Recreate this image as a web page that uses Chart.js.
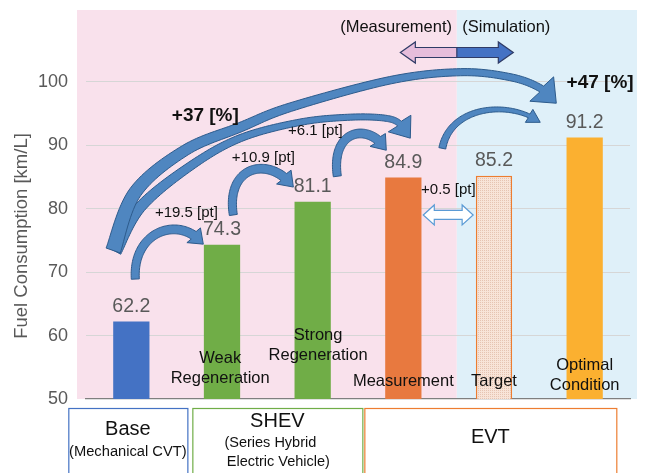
<!doctype html>
<html lang="en">
<head>
<meta charset="utf-8">
<title>Fuel Consumption</title>
<script src="https://cdn.jsdelivr.net/npm/chart.js"></script>
<style>
  html, body { margin: 0; padding: 0; background: #fff; }
  #chart { display: block; }
</style>
</head>
<body>
<canvas id="chart" width="646" height="473"></canvas>
<script>
// ---- data ----
const categories = ['Base', 'Weak Regeneration', 'Strong Regeneration', 'Measurement', 'Target', 'Optimal Condition'];
const fuelValues = [62.2, 74.3, 81.1, 84.9, 85.2, 91.2];
const barColors = ['#4472c4', '#70ad47', '#70ad47', '#e8793f', 'pattern', '#fbb030'];
const categoryLines = [[], ['Weak', 'Regeneration'], ['Strong', 'Regeneration'], ['Measurement'], ['Target'], ['Optimal', 'Condition']];
const yTicks = [50, 60, 70, 80, 90, 100];
const groupNames = ['Base', 'SHEV', 'EVT'];
const groupNotes = [['(Mechanical CVT)'], ['(Series Hybrid', 'Electric Vehicle)'], []];
const stepLabels = ['+19.5 [pt]', '+10.9 [pt]', '+6.1 [pt]', '+0.5 [pt]'];
const totalLabels = ['+37 [%]', '+47 [%]'];

// ---- annotation layout (category index, value) ----
const labelBase = [null, 53.3, 56.8, 52.8, 52.8, 52.2];   // value of last line of in-plot label
const labelShift = [0, -0.02, 0.06, 0, 0, 0];
const regionSplit = 3.59;                                 // measurement | simulation
const groupSpans = [[-0.695, 0.618, '#4472c4'], [0.673, 2.548, '#70ad47'], [2.57, 5.349, '#ed7d31']];
// small step arrows: cubic control points
const stepArrows = [
  { p: [[0.044, 68.9], [0.011, 76.6], [0.54, 79.0], [0.794, 74.4]], w0: 8, w1: 9, hw: 20, hl: 13 },
  { p: [[1.125, 79.0], [1.037, 86.9], [1.533, 88.4], [1.787, 83.4]], w0: 8, w1: 9, hw: 20, hl: 13 },
  { p: [[2.272, 85.1], [2.195, 92.7], [2.636, 93.6], [2.812, 89.2]], w0: 8, w1: 9, hw: 20, hl: 13 },
  { p: [[3.43, 89.5], [3.52, 96.3], [4.18, 97.1], [4.51, 93.6]], w0: 7, w1: 4, hw: 15, hl: 12 }
];
// long arrows: points on the centre line
const totalArrows = [
  { pts: [[-0.180, 73.3], [0.099, 80.24], [0.651, 86.69], [1.202, 91.10], [1.864, 93.62], [2.415, 94.41], [2.801, 94.25], [2.967, 93.31], [3.077, 91.10]], w0: 13, w1: 6, hw: 28, hl: 18 },
  { pts: [[-0.200, 73.4], [0.044, 82.6], [0.596, 89.21], [1.202, 92.83], [1.754, 95.98], [2.857, 100.24], [3.629, 101.50], [4.180, 100.71], [4.511, 98.98], [4.687, 96.61]], w0: 15, w1: 7, hw: 34, hl: 20 }
];
const stepPos = [[0.607, 79.4], [1.456, 88.0], [2.03, 92.2], [3.497, 82.9]];
const totalPos = [[0.816, 94.7], [5.17, 99.8]];

function targetPattern() {
  const c = document.createElement('canvas');
  c.width = 2; c.height = 2;
  const g = c.getContext('2d');
  g.fillStyle = '#f8e4d8'; g.fillRect(0, 0, 2, 2);
  g.fillStyle = '#e6c4b2'; g.fillRect(0, 0, 1, 1);
  return g.createPattern(c, 'repeat');
}

function cubicPts(p) {
  const out = [];
  for (let i = 0; i <= 80; i++) {
    const t = i / 80, u = 1 - t;
    out.push([
      u*u*u*p[0][0] + 3*u*u*t*p[1][0] + 3*u*t*t*p[2][0] + t*t*t*p[3][0],
      u*u*u*p[0][1] + 3*u*u*t*p[1][1] + 3*u*t*t*p[2][1] + t*t*t*p[3][1]
    ]);
  }
  return out;
}

function splinePts(p) {
  const out = [p[0]];
  for (let i = 0; i < p.length - 1; i++) {
    const p0 = p[Math.max(0, i-1)], p1 = p[i], p2 = p[i+1], p3 = p[Math.min(p.length-1, i+2)];
    for (let k = 1; k <= 16; k++) {
      const t = k / 16, t2 = t*t, t3 = t2*t;
      out.push([0, 1].map(j => 0.5 * ((2*p1[j]) + (-p0[j] + p2[j]) * t +
        (2*p0[j] - 5*p1[j] + 4*p2[j] - p3[j]) * t2 + (-p0[j] + 3*p1[j] - 3*p2[j] + p3[j]) * t3)));
    }
  }
  return out;
}

// taper: 1 = linear, 2 = narrows quickly after the tail
function curvedArrow(ctx, pts, w0, w1, hw, hl, taper) {
  const n = pts.length - 1, cum = [0];
  for (let i = 1; i <= n; i++) cum.push(cum[i-1] + Math.hypot(pts[i][0]-pts[i-1][0], pts[i][1]-pts[i-1][1]));
  const total = cum[n];
  let cut = n;
  while (cut > 1 && cum[cut] > total - hl) cut--;
  const left = [], right = [];
  for (let i = 0; i <= cut; i++) {
    const a = pts[Math.max(0, i-1)], b = pts[Math.min(n, i+1)];
    let dx = b[0]-a[0], dy = b[1]-a[1];
    const len = Math.hypot(dx, dy) || 1;
    dx /= len; dy /= len;
    const f = Math.pow(1 - cum[i] / cum[cut], taper);
    const w = (w1 + (w0 - w1) * f) / 2;
    left.push([pts[i][0] - dy*w, pts[i][1] + dx*w]);
    right.push([pts[i][0] + dy*w, pts[i][1] - dx*w]);
  }
  const base = pts[cut], tip = pts[n];
  let dx = tip[0]-base[0], dy = tip[1]-base[1];
  const len = Math.hypot(dx, dy) || 1;
  dx /= len; dy /= len;
  ctx.beginPath();
  left.forEach((q, i) => i ? ctx.lineTo(q[0], q[1]) : ctx.moveTo(q[0], q[1]));
  ctx.lineTo(base[0] - dy*hw/2, base[1] + dx*hw/2);
  ctx.lineTo(tip[0], tip[1]);
  ctx.lineTo(base[0] + dy*hw/2, base[1] - dx*hw/2);
  for (let i = right.length - 1; i >= 0; i--) ctx.lineTo(right[i][0], right[i][1]);
  ctx.closePath();
  ctx.fillStyle = '#4f86c0';
  ctx.fill();
  ctx.lineWidth = 1;
  ctx.strokeStyle = '#2d5b8c';
  ctx.stroke();
}

function doubleArrowPath(ctx, x0, x1, y, sh, hh, hl) {
  ctx.beginPath();
  ctx.moveTo(x0, y);
  ctx.lineTo(x0 + hl, y - hh/2);
  ctx.lineTo(x0 + hl, y - sh/2);
  ctx.lineTo(x1 - hl, y - sh/2);
  ctx.lineTo(x1 - hl, y - hh/2);
  ctx.lineTo(x1, y);
  ctx.lineTo(x1 - hl, y + hh/2);
  ctx.lineTo(x1 - hl, y + sh/2);
  ctx.lineTo(x0 + hl, y + sh/2);
  ctx.lineTo(x0 + hl, y + hh/2);
  ctx.closePath();
}

const FONT = '"Liberation Sans", Arial, sans-serif';

const annotate = {
  id: 'annotate',
  beforeDraw(chart) {
    const { ctx, chartArea: a, scales: { x } } = chart;
    const split = x.getPixelForValue(regionSplit);
    ctx.save();
    ctx.fillStyle = '#f9e1ec';
    ctx.fillRect(a.left - 9, a.top, split - a.left + 9, a.bottom - a.top);
    ctx.fillStyle = '#dff0f9';
    ctx.fillRect(split, a.top, a.right + 7 - split, a.bottom - a.top);
    ctx.restore();
  },
  afterDatasetsDraw(chart) {
    const { ctx, chartArea: a, scales: { x, y } } = chart;
    const P = (q) => [x.getPixelForValue(q[0]), y.getPixelForValue(q[1])];
    ctx.save();
    ctx.textAlign = 'center';
    ctx.textBaseline = 'middle';

    // value labels
    ctx.font = '19.5px ' + FONT;
    ctx.fillStyle = '#595959';
    fuelValues.forEach((v, i) => {
      ctx.fillText(v.toFixed(1), x.getPixelForValue(i), y.getPixelForValue(v) - 15);
    });

    // in-plot category labels
    ctx.font = '16.5px ' + FONT;
    ctx.fillStyle = '#111';
    categoryLines.forEach((lines, i) => {
      if (!lines.length) return;
      const yb = y.getPixelForValue(labelBase[i]);
      const xc = x.getPixelForValue(i + labelShift[i]);
      lines.forEach((t, k) => ctx.fillText(t, xc, yb - (lines.length - 1 - k) * 20));
    });

    // curved arrows
    totalArrows.forEach(ar => curvedArrow(ctx, splinePts(ar.pts.map(P)), ar.w0, ar.w1, ar.hw, ar.hl, 2.5));
    stepArrows.forEach(ar => curvedArrow(ctx, cubicPts(ar.p.map(P)), ar.w0, ar.w1, ar.hw, ar.hl, 1));

    // step labels
    ctx.font = '15px ' + FONT;
    ctx.fillStyle = '#111';
    stepLabels.forEach((t, i) => { const q = P(stepPos[i]); ctx.fillText(t, q[0], q[1]); });
    ctx.font = 'bold 19px ' + FONT;
    totalLabels.forEach((t, i) => { const q = P(totalPos[i]); ctx.fillText(t, q[0], q[1]); });

    // +0.5 hollow double arrow
    const h0 = P([3.22, 79.0]), h1 = P([3.77, 79.0]);
    doubleArrowPath(ctx, h0[0], h1[0], h0[1], 9, 20, 11);
    ctx.fillStyle = '#ffffff';
    ctx.fill();
    ctx.strokeStyle = '#5b9bd5';
    ctx.lineWidth = 1.2;
    ctx.stroke();

    // measurement / simulation arrow
    const t0 = P([2.967, 104.6]), t1 = P([4.213, 104.6]);
    const sx = x.getPixelForValue(regionSplit);
    ctx.save();
    doubleArrowPath(ctx, t0[0], t1[0], t0[1], 10, 21, 15);
    ctx.clip();
    ctx.fillStyle = '#e6bddb';
    ctx.fillRect(t0[0], t0[1] - 12, sx - t0[0], 24);
    ctx.fillStyle = '#4472c4';
    ctx.fillRect(sx, t0[1] - 12, t1[0] - sx, 24);
    ctx.restore();
    doubleArrowPath(ctx, t0[0], t1[0], t0[1], 10, 21, 15);
    ctx.strokeStyle = '#2f3b66';
    ctx.lineWidth = 1.2;
    ctx.stroke();
    ctx.beginPath();
    ctx.moveTo(sx, t0[1] - 5); ctx.lineTo(sx, t0[1] + 5);
    ctx.stroke();
    ctx.font = '16.5px ' + FONT;
    ctx.fillStyle = '#111';
    let q = P([2.92, 108.6]);
    ctx.fillText('(Measurement)', q[0], q[1]);
    q = P([4.136, 108.6]);
    ctx.fillText('(Simulation)', q[0], q[1]);

    // group boxes under the axis
    const top = a.bottom + 9;
    groupSpans.forEach((g, i) => {
      const gx0 = x.getPixelForValue(g[0]), gx1 = x.getPixelForValue(g[1]);
      ctx.strokeStyle = g[2];
      ctx.lineWidth = 1.2;
      ctx.strokeRect(gx0 + 0.5, top + 0.5, gx1 - gx0, 80);
      const cx = (gx0 + gx1) / 2;
      ctx.fillStyle = '#111';
      ctx.font = '20px ' + FONT;
      const notes = groupNotes[i];
      if (!notes.length) {
        ctx.fillText(groupNames[i], cx, top + 29);
      } else if (notes.length === 1) {
        ctx.fillText(groupNames[i], cx, top + 21);
        ctx.font = '14.7px ' + FONT;
        ctx.fillText(notes[0], cx, top + 44);
      } else {
        ctx.fillText(groupNames[i], cx, top + 13);
        ctx.font = '14.5px ' + FONT;
        ctx.fillText(notes[0], cx - 7, top + 35);
        ctx.fillText(notes[1], cx + 1, top + 54);
      }
    });

    // y axis title
    ctx.translate(22, 236);
    ctx.rotate(-Math.PI / 2);
    ctx.font = '18.5px ' + FONT;
    ctx.fillStyle = '#595959';
    ctx.fillText('Fuel Consumption [km/L]', 0, 0);
    ctx.restore();
  }
};

const pattern = targetPattern();

new Chart(document.getElementById('chart'), {
  type: 'bar',
  data: {
    labels: categories,
    datasets: [{
      data: fuelValues,
      backgroundColor: barColors.map(c => c === 'pattern' ? pattern : c),
      borderColor: barColors.map(c => c === 'pattern' ? '#ed7d31' : c),
      borderWidth: barColors.map(c => c === 'pattern' ? 1.5 : 0),
      barPercentage: 0.4,
      categoryPercentage: 1.0
    }]
  },
  options: {
    responsive: false,
    devicePixelRatio: 1,
    animation: false,
    layout: { padding: { left: 0, right: 16, top: 10, bottom: 0 } },
    plugins: { legend: { display: false }, tooltip: { enabled: false } },
    scales: {
      x: {
        ticks: { display: false },
        grid: { display: false },
        border: { color: '#7f7f7f', width: 1.2 },
        afterFit(s) { s.height = 74; s.paddingLeft = 0; s.paddingRight = 0; }
      },
      y: {
        min: 50,
        max: 111.3,
        afterBuildTicks(s) { s.ticks = yTicks.map(v => ({ value: v })); },
        ticks: {
          padding: 18,
          color: '#595959',
          font: { family: FONT, size: 18 },
          callback: v => v
        },
        grid: {
          drawTicks: false,
          color: c => (c.tick && c.tick.value > 50) ? '#d6d6d6' : 'rgba(0,0,0,0)'
        },
        border: { display: false },
        afterFit(s) { s.width = 86; s.paddingTop = 0; s.paddingBottom = 0; }
      }
    }
  },
  plugins: [annotate]
});
</script>
</body>
</html>
